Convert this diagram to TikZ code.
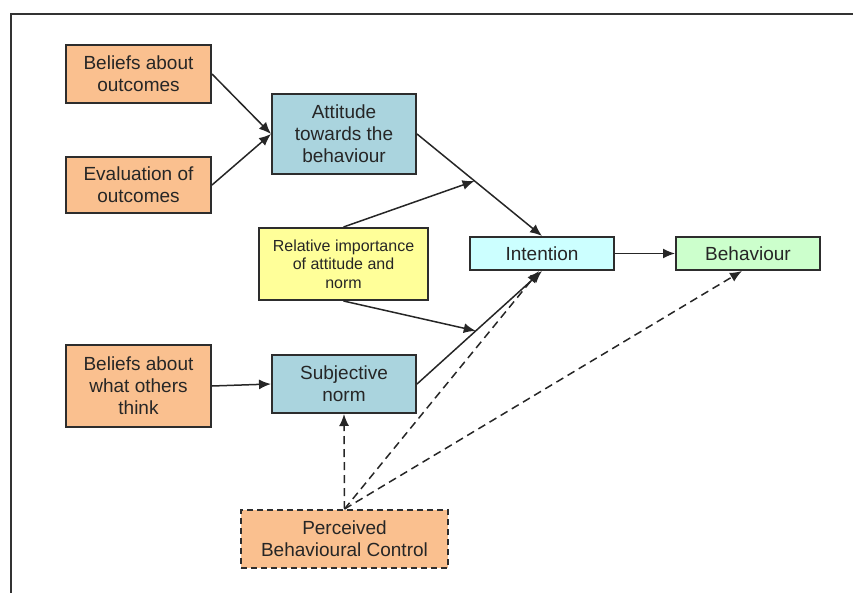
\documentclass[tikz,border=0pt]{standalone}
\usepackage{fontspec}
\setmainfont{Liberation Sans}
\usetikzlibrary{arrows.meta,calc}
\definecolor{tan}{RGB}{250,192,143}
\definecolor{slate}{RGB}{170,212,222}
\definecolor{lyellow}{RGB}{255,255,153}
\definecolor{lcyan}{RGB}{204,255,255}
\definecolor{lgreen}{RGB}{204,255,204}
\definecolor{edge}{RGB}{45,45,45}
\tikzset{
  box/.style={draw=edge, line width=2pt, inner sep=0pt, align=center,
    font=\fontsize{19}{22}\selectfont, text=black!85},
  obox/.style={box, fill=tan, minimum width=145pt},
  bbox/.style={box, fill=slate, minimum width=144pt},
  conn/.style={line width=1.5pt, draw=black!85, -{Latex[length=12pt,width=10pt]}},
  dconn/.style={conn, dash pattern=on 8pt off 5pt}
}
\begin{document}
\begin{tikzpicture}[x=1pt,y=-1pt]
\useasboundingbox (0,0) rectangle (853,593);
\draw[line width=1.8pt, black!80] (11,593) -- (11,14) -- (853,14);
\node[obox, minimum height=58pt] (b1) at (138.5,74) {Beliefs about\\outcomes};
\node[obox, minimum height=56pt] (b2) at (138.5,185) {Evaluation of\\outcomes};
\node[obox, minimum height=82pt] (b3) at (138.5,386) {Beliefs about\\what others\\think};
\node[bbox, minimum height=80pt] (att) at (344,134) {Attitude\\towards the\\behaviour};
\node[bbox, minimum height=58pt] (sn) at (344,384) {Subjective\\norm};
\node[box, fill=lyellow, minimum width=169pt, minimum height=72pt,
  font=\fontsize{16}{18.5}\selectfont] (rel) at (343.5,264) {Relative importance\\of attitude and\\norm};
\node[box, fill=lcyan, minimum width=144pt, minimum height=33pt] (int) at (542,253.5) {Intention};
\node[box, fill=lgreen, minimum width=144pt, minimum height=33pt] (beh) at (748,253.5) {Behaviour};
\node[box, fill=tan, dash pattern=on 6pt off 4pt, minimum width=207pt, minimum height=58pt] (pbc) at (344.5,539) {Perceived\\Behavioural Control};
\coordinate (m1) at ($(att.east)!0.46!(int.north)$);
\coordinate (m2) at ($(sn.east)!0.47!(int.south)$);
\draw[conn] (b1.east) -- (att.west);
\draw[conn] (b2.east) -- (att.west);
\draw[conn] (b3.east) -- (sn.west);
\draw[conn] (att.east) -- (int.north);
\draw[conn] (sn.east) -- (int.south);
\draw[conn] (rel.north) -- (m1);
\draw[conn] (rel.south) -- (m2);
\draw[conn] (int.east) -- (beh.west);
\draw[dconn] (pbc.north) -- (sn.south);
\draw[dconn] (pbc.north) -- ($(int.south)+(-3,0)$);
\draw[dconn] (pbc.north) -- ($(beh.south)+(-6,0)$);
\end{tikzpicture}
\end{document}
